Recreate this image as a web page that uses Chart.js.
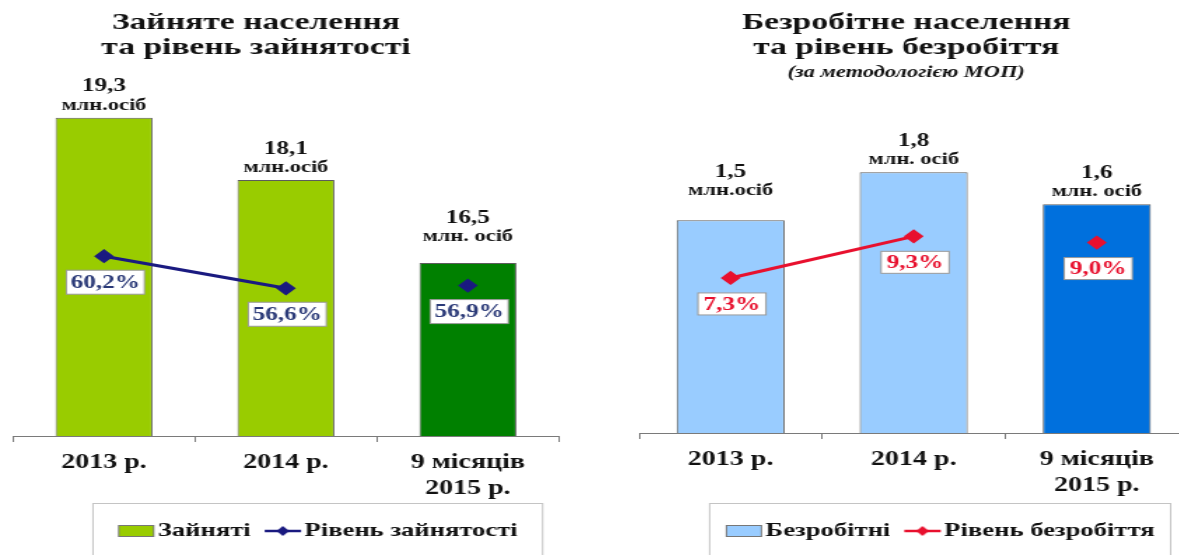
<!DOCTYPE html>
<html>
<head>
<meta charset="utf-8">
<script src="https://cdn.jsdelivr.net/npm/chart.js@4.4.1/dist/chart.umd.min.js"></script>
<style>
  html, body { margin: 0; padding: 0; background: #fff; overflow: hidden; width: 1179px; height: 555px; }
  canvas { position: absolute; top: 0; }
</style>
</head>
<body>
<canvas id="emp"></canvas>
<canvas id="unemp"></canvas>
<script>
// categories / tick labels
const periods = ['2013 р.', '2014 р.', ['9 місяців', '2015 р.']];

// Зайняте населення, млн осіб + рівень зайнятості, %
const employed = [19.3, 18.1, 16.5];
const employedUnits = ['млн.осіб', 'млн.осіб', 'млн. осіб'];
const employmentRate = [60.2, 56.6, 56.9];

// Безробітне населення, млн осіб + рівень безробіття, %
const unemployed = [1.5, 1.8, 1.6];
const unemployedUnits = ['млн.осіб', 'млн. осіб', 'млн. осіб'];
const unemploymentRate = [7.3, 9.3, 9.0];

const FONT = 'Liberation Serif';
const SX = 1.4; // the original picture is stretched sideways
const fmt = v => v.toFixed(1).replace('.', ',');

// legend pictures (drawn right of centre so the text sits close to them)
const IMG_W = 66, OX = 27;
function swatch(fill) {
    const c = document.createElement('canvas');
    c.width = IMG_W; c.height = 12;
    const g = c.getContext('2d');
    g.fillStyle = fill;
    g.fillRect(OX + 0.5, 0.5, 25, 11);
    g.strokeStyle = '#777';
    g.strokeRect(OX + 0.5, 0.5, 25, 11);
    return c;
}
function lineMark(color) {
    const c = document.createElement('canvas');
    c.width = IMG_W; c.height = 12;
    const g = c.getContext('2d');
    g.strokeStyle = color; g.lineWidth = 2.5;
    g.beginPath(); g.moveTo(OX, 6); g.lineTo(OX + 26, 6); g.stroke();
    g.fillStyle = color;
    g.beginPath(); g.moveTo(OX + 13, 1); g.lineTo(OX + 17.5, 6); g.lineTo(OX + 13, 11); g.lineTo(OX + 8.5, 6); g.closePath(); g.fill();
    return c;
}

// value labels, rate boxes, title and legend frame
const decor = {
    id: 'decor',
    afterDatasetsDraw(chart, args, o) {
        const ctx = chart.ctx;
        ctx.save();
        ctx.textAlign = 'center';
        ctx.textBaseline = 'middle';

        const bars = chart.getDatasetMeta(0).data;
        bars.forEach((b, i) => {
            const lift = o.lift[i];
            ctx.fillStyle = '#111';
            ctx.font = `bold 18px "${FONT}"`;
            ctx.fillText(fmt(chart.data.datasets[0].data[i]), b.x, b.y - 31 - lift);
            ctx.font = `bold 16px "${FONT}"`;
            ctx.fillText(o.units[i], b.x, b.y - 12 - lift);
        });

        const pts = chart.getDatasetMeta(1).data;
        ctx.font = `bold 18px "${FONT}"`;
        pts.forEach((p, i) => {
            const w = o.boxW / SX, h = o.boxH;
            const cx = p.x + 1, cy = p.y + 26;
            ctx.fillStyle = '#fff';
            ctx.fillRect(cx - w / 2, cy - h / 2, w, h);
            ctx.strokeStyle = '#9a9a9a';
            ctx.lineWidth = 1;
            ctx.strokeRect(cx - w / 2, cy - h / 2, w, h);
            ctx.fillStyle = o.rateColor;
            ctx.fillText(fmt(chart.data.datasets[1].data[i]) + '%', cx, cy + 1);
        });
        ctx.restore();
    },
    afterDraw(chart, args, o) {
        const ctx = chart.ctx;
        ctx.save();
        ctx.textAlign = 'center';
        ctx.textBaseline = 'middle';
        ctx.fillStyle = '#111';
        o.title.forEach(t => {
            ctx.font = t.font;
            ctx.fillText(t.text, o.titleX / SX, t.y);
        });
        const hb = chart.legend.legendHitBoxes;
        const l = Math.min(...hb.map(h => h.left)) + 7 - o.frameM / SX;
        const r = Math.max(...hb.map(h => h.left + h.width)) + o.frameM / SX;
        ctx.strokeStyle = '#c4c4c4';
        ctx.lineWidth = 1;
        ctx.strokeRect(l, 503.5, r - l, 80);
        ctx.restore();
    }
};

function makeChart(id, c) {
    const cv = document.getElementById(id);
    const W = Math.round(c.cssW / SX);
    cv.width = W;
    cv.height = 555;
    cv.style.left = c.left + 'px';
    cv.style.width = (W * SX) + 'px';
    cv.style.height = '555px';

    const legendItems = [
        { text: c.barName, pointStyle: swatch(c.barColors[0]), datasetIndex: 0, fillStyle: c.barColors[0], strokeStyle: '#777', lineWidth: 0, hidden: false, fontColor: '#111' },
        { text: c.lineName, pointStyle: lineMark(c.lineColor), datasetIndex: 1, fillStyle: c.lineColor, strokeStyle: c.lineColor, lineWidth: 0, hidden: false, fontColor: '#111' }
    ];

    return new Chart(cv.getContext('2d'), {
        type: 'bar',
        data: {
            labels: periods,
            datasets: [{
                type: 'bar',
                label: c.barName,
                data: c.bars,
                backgroundColor: c.barColors,
                borderColor: '#5c5c5c',
                borderWidth: 1,
                barPercentage: c.barPct,
                categoryPercentage: 1,
                yAxisID: 'y',
                order: 1
            }, {
                type: 'line',
                label: c.lineName,
                data: c.rates,
                borderColor: c.lineColor,
                borderWidth: 3,
                pointStyle: 'rectRot',
                pointRadius: 5,
                pointBackgroundColor: c.lineColor,
                pointBorderColor: c.lineColor,
                yAxisID: 'y1',
                order: 0,
                segment: {
                    borderColor: s => s.p1DataIndex === 2 ? 'rgba(0,0,0,0)' : undefined
                }
            }]
        },
        options: {
            responsive: false,
            animation: false,
            devicePixelRatio: 1,
            layout: {
                padding: {
                    left: c.legendL / SX,
                    right: W - c.legendR / SX,
                    top: c.areaTop,
                    bottom: 4.5
                }
            },
            plugins: {
                tooltip: { enabled: false },
                legend: {
                    position: 'bottom',
                    labels: {
                        usePointStyle: true,
                        pointStyleWidth: 26,
                        padding: 3,
                        color: '#111',
                        font: { family: FONT, size: 19, weight: 'bold' },
                        generateLabels: () => legendItems
                    }
                },
                decor: {
                    lift: c.lift,
                    units: c.units,
                    boxW: c.boxW,
                    boxH: c.boxH,
                    rateColor: c.rateColor,
                    title: c.title,
                    titleX: c.titleX,
                    frameM: c.frameM
                }
            },
            scales: {
                x: {
                    offset: true,
                    grid: { offset: true, drawOnChartArea: false, drawTicks: true, tickLength: 6, color: '#7a7a7a' },
                    border: { color: '#7a7a7a', width: 1 },
                    ticks: {
                        color: '#111',
                        padding: 8,
                        maxRotation: 0,
                        autoSkip: false,
                        font: { family: FONT, size: 20, weight: 'bold', lineHeight: 1.3 }
                    },
                    afterFit: s => { s.height = c.xAxisH; }
                },
                y: { display: false, min: c.yMin, max: c.yMax },
                y1: {
                    position: 'right',
                    min: c.y1Min,
                    max: c.y1Max,
                    grid: { display: false, drawTicks: false },
                    border: { display: false },
                    ticks: { display: false },
                    afterFit: s => { s.width = (c.legendR - c.areaR) / SX; }
                }
            }
        },
        plugins: [decor]
    });
}

makeChart('emp', {
    left: 0, cssW: 620, legendL: 13, legendR: 613, areaR: 559,
    areaTop: 80, xAxisH: 82.5,
    bars: employed, rates: employmentRate, units: employedUnits,
    barName: 'Зайняті', lineName: 'Рівень зайнятості',
    barColors: ['#99cc00', '#99cc00', '#008000'],
    lineColor: '#1a1a80', rateColor: '#2b3a78',
    barPct: 0.533,
    yMin: 13.16, yMax: 20.03, y1Min: 40, y1Max: 80,
    lift: [0, 0, 14], boxW: 78, boxH: 24, frameM: 25,
    titleX: 256,
    title: [
        { text: 'Зайняте населення', font: `bold 24px "${FONT}"`, y: 23 },
        { text: 'та рівень зайнятості', font: `bold 24px "${FONT}"`, y: 48 }
    ]
});

makeChart('unemp', {
    left: 590, cssW: 650, legendL: 49, legendR: 641, areaR: 598,
    areaTop: 100, xAxisH: 85.5,
    bars: unemployed, rates: unemploymentRate, units: unemployedUnits,
    barName: 'Безробітні', lineName: 'Рівень безробіття',
    barColors: ['#99ccff', '#99ccff', '#0070dd'],
    lineColor: '#e8102e', rateColor: '#e8102e',
    barPct: 0.59,
    yMin: 0.17, yMax: 2.251, y1Min: -0.15, y1Max: 15.85,
    lift: [17, 0, 0], boxW: 68, boxH: 22, frameM: 16,
    titleX: 316,
    title: [
        { text: 'Безробітне населення', font: `bold 24px "${FONT}"`, y: 23 },
        { text: 'та рівень безробіття', font: `bold 24px "${FONT}"`, y: 48 },
        { text: '(за методологією МОП)', font: `italic bold 16px "${FONT}"`, y: 73 }
    ]
});
</script>
</body>
</html>
